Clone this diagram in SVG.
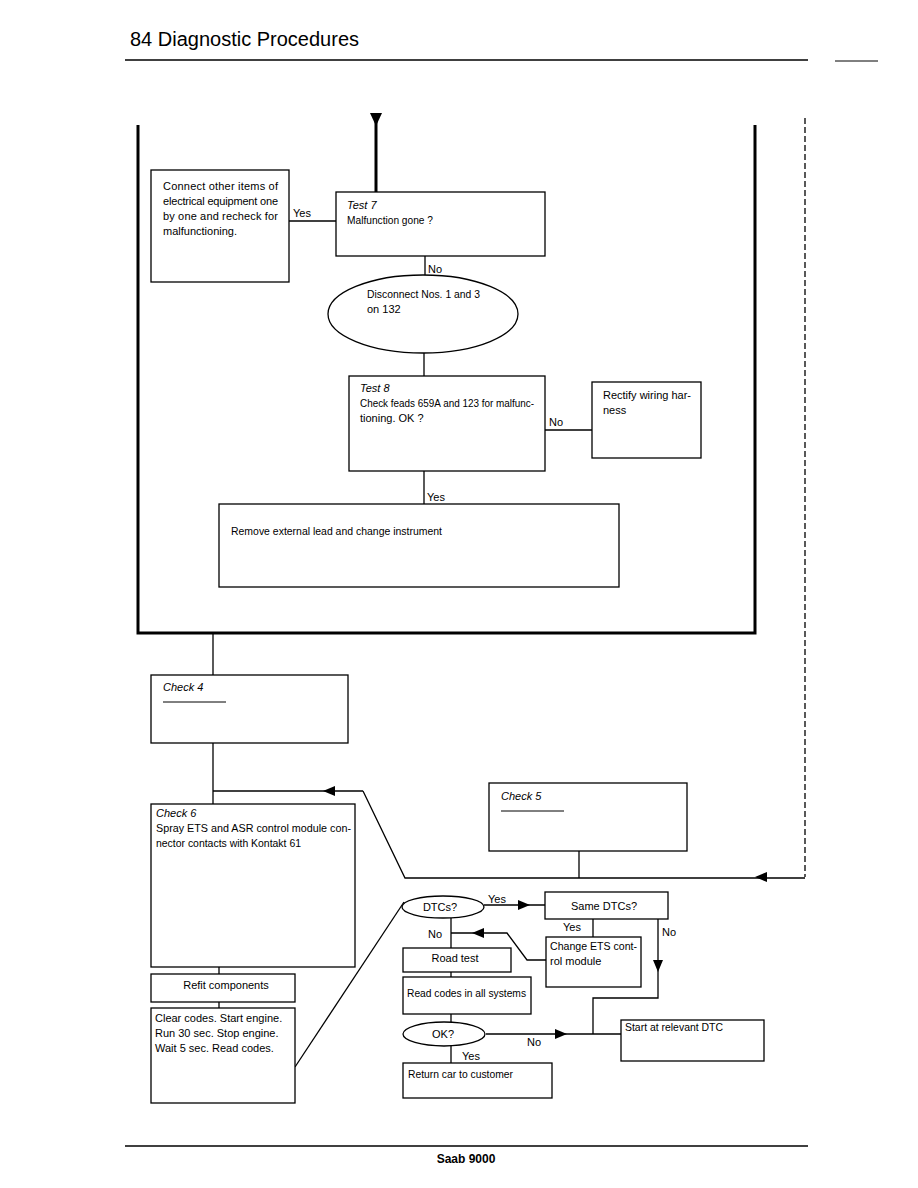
<svg xmlns="http://www.w3.org/2000/svg" width="918" height="1188" viewBox="0 0 918 1188">
<defs>
<style>
text{font-family:"Liberation Sans",Arial,sans-serif;font-size:11px;fill:#000}
.i{font-style:italic}
.c{text-anchor:middle}
.box{fill:#fff;stroke:#000;stroke-width:1.3}
.ln{fill:none;stroke:#000;stroke-width:1.3}
.thk{fill:none;stroke:#000;stroke-width:3}
</style>
</defs>
<rect width="918" height="1188" fill="#fff"/>
<g id="header">
<text x="130" y="46" style="font-size:20px">84 Diagnostic Procedures</text>
<line x1="125" y1="60" x2="808" y2="60" stroke="#000" stroke-width="1.5"/>
<line x1="835" y1="61" x2="878" y2="61" stroke="#000" stroke-width="1"/>
</g>
<g id="connectors">
<path class="thk" d="M138,125 V633 H755 V125"/>
<line class="thk" x1="376" y1="118" x2="376" y2="192"/>
<path d="M370,113 H382 L376,126 Z" fill="#000"/>
<line class="ln" x1="289" y1="221" x2="336" y2="221"/>
<line class="ln" x1="425" y1="256" x2="425" y2="275"/>
<line class="ln" x1="424" y1="353" x2="424" y2="376"/>
<line class="ln" x1="545" y1="430" x2="592" y2="430"/>
<line class="ln" x1="424" y1="471" x2="424" y2="504"/>
<line class="ln" x1="213" y1="634" x2="213" y2="675"/>
<line class="ln" x1="213" y1="743" x2="213" y2="804"/>
<path class="ln" d="M363,791 H213"/>
<path d="M335,786 L323,791 L335,796 Z" fill="#000"/>
<path class="ln" d="M363,791 L405,878 H805"/>
<path d="M767,872 L755,877 L767,882 Z" fill="#000"/>
<line class="ln" x1="805" y1="118" x2="805" y2="877" stroke-dasharray="6,3"/>
<line class="ln" x1="579" y1="851" x2="579" y2="878"/>
<line class="ln" x1="219" y1="967" x2="219" y2="974"/>
<line class="ln" x1="219" y1="1002" x2="219" y2="1008"/>
<line class="ln" x1="295" y1="1067" x2="404" y2="902"/>
<line class="ln" x1="484" y1="905" x2="545" y2="905"/>
<path d="M518,900 L530,905 L518,910 Z" fill="#000"/>
<line class="ln" x1="593" y1="919" x2="593" y2="937"/>
<path class="ln" d="M546,960 H527 L507,933 H451"/>
<path d="M484,928 L472,933 L484,938 Z" fill="#000"/>
<line class="ln" x1="451" y1="918" x2="451" y2="948"/>
<line class="ln" x1="451" y1="972" x2="451" y2="977"/>
<line class="ln" x1="451" y1="1014" x2="451" y2="1022"/>
<line class="ln" x1="451" y1="1046" x2="451" y2="1063"/>
<path class="ln" d="M658,919 V998 H593 V1034"/>
<path d="M653,960 L663,960 L658,972 Z" fill="#000"/>
<line class="ln" x1="486" y1="1034" x2="621" y2="1034"/>
<path d="M555,1029 L567,1034 L555,1039 Z" fill="#000"/>
</g>
<g id="labels">
<text x="293" y="217">Yes</text>
<text x="428" y="273">No</text>
<text x="549" y="426">No</text>
<text x="427" y="501">Yes</text>
<text x="488" y="903">Yes</text>
<text x="428" y="938">No</text>
<text x="563" y="931">Yes</text>
<text x="662" y="936">No</text>
<text x="527" y="1046">No</text>
<text x="462" y="1060">Yes</text>
</g>
<g id="connect-box">
<rect class="box" x="151" y="170" width="138" height="112"/>
<text x="163" y="190" textLength="115" lengthAdjust="spacing">Connect other items of</text>
<text x="163" y="205" textLength="115" lengthAdjust="spacing">electrical equipment one</text>
<text x="163" y="220" textLength="115" lengthAdjust="spacing">by one and recheck for</text>
<text x="163" y="235">malfunctioning.</text>
</g>
<g id="test7">
<rect class="box" x="336" y="192" width="209" height="64"/>
<text class="i" x="347" y="209">Test 7</text>
<text x="347" y="224" textLength="86" lengthAdjust="spacingAndGlyphs">Malfunction gone ?</text>
</g>
<g id="disconnect">
<ellipse class="box" cx="423" cy="314" rx="95" ry="39"/>
<text x="367" y="298" textLength="113" lengthAdjust="spacingAndGlyphs">Disconnect Nos. 1 and 3</text>
<text x="367" y="313">on 132</text>
</g>
<g id="test8">
<rect class="box" x="349" y="376" width="196" height="95"/>
<text class="i" x="360" y="392">Test 8</text>
<text x="360" y="407" style="font-size:11.5px" textLength="174" lengthAdjust="spacingAndGlyphs">Check feads 659A and 123 for malfunc-</text>
<text x="360" y="422">tioning. OK ?</text>
</g>
<g id="rectify">
<rect class="box" x="592" y="382" width="109" height="76"/>
<text x="603" y="399" textLength="88" lengthAdjust="spacing">Rectify wiring har-</text>
<text x="603" y="414">ness</text>
</g>
<g id="remove">
<rect class="box" x="219" y="504" width="400" height="83"/>
<text x="231" y="535" textLength="211" lengthAdjust="spacingAndGlyphs">Remove external lead and change instrument</text>
</g>
<g id="check4">
<rect class="box" x="151" y="675" width="197" height="68"/>
<text class="i" x="163" y="691">Check 4</text>
<line x1="163" y1="702" x2="226" y2="702" stroke="#000" stroke-width="1"/>
</g>
<g id="check5">
<rect class="box" x="489" y="783" width="198" height="68"/>
<text class="i" x="501" y="800">Check 5</text>
<line x1="501" y1="811" x2="564" y2="811" stroke="#000" stroke-width="1"/>
</g>
<g id="check6">
<rect class="box" x="151" y="804" width="204" height="163"/>
<text class="i" x="156" y="817">Check 6</text>
<text x="156" y="832" textLength="195" lengthAdjust="spacingAndGlyphs">Spray ETS and ASR control module con-</text>
<text x="156" y="847" textLength="145" lengthAdjust="spacingAndGlyphs">nector contacts with Kontakt 61</text>
</g>
<g id="refit">
<rect class="box" x="151" y="974" width="144" height="28"/>
<text class="c" x="226" y="989">Refit components</text>
</g>
<g id="clear">
<rect class="box" x="151" y="1008" width="144" height="95"/>
<text x="155" y="1022">Clear codes. Start engine.</text>
<text x="155" y="1037">Run 30 sec. Stop engine.</text>
<text x="155" y="1052">Wait 5 sec. Read codes.</text>
</g>
<g id="dtcs">
<ellipse class="box" cx="443" cy="907" rx="41" ry="11"/>
<text class="c" x="440" y="911">DTCs?</text>
</g>
<g id="same-dtcs">
<rect class="box" x="545" y="892" width="123" height="27"/>
<text class="c" x="604" y="910">Same DTCs?</text>
</g>
<g id="change-ets">
<rect class="box" x="546" y="937" width="95" height="50"/>
<text x="550" y="950" textLength="87" lengthAdjust="spacingAndGlyphs">Change ETS cont-</text>
<text x="550" y="965">rol module</text>
</g>
<g id="road-test">
<rect class="box" x="403" y="948" width="108" height="24"/>
<text class="c" x="455" y="962">Road test</text>
</g>
<g id="read-codes">
<rect class="box" x="403" y="977" width="128" height="37"/>
<text x="407" y="997" textLength="119" lengthAdjust="spacingAndGlyphs">Read codes in all systems</text>
</g>
<g id="ok">
<ellipse class="box" cx="444" cy="1034" rx="41" ry="12"/>
<text class="c" x="443" y="1038">OK?</text>
</g>
<g id="start-dtc">
<rect class="box" x="621" y="1020" width="143" height="41"/>
<text x="625" y="1031" textLength="98" lengthAdjust="spacingAndGlyphs">Start at relevant DTC</text>
</g>
<g id="return">
<rect class="box" x="403" y="1063" width="149" height="35"/>
<text x="408" y="1078" textLength="105" lengthAdjust="spacingAndGlyphs">Return car to customer</text>
</g>
<g id="footer">
<line x1="125" y1="1146" x2="808" y2="1146" stroke="#000" stroke-width="1.5"/>
<text class="c" x="466" y="1163" style="font-weight:bold;font-size:12px">Saab 9000</text>
</g>
</svg>
